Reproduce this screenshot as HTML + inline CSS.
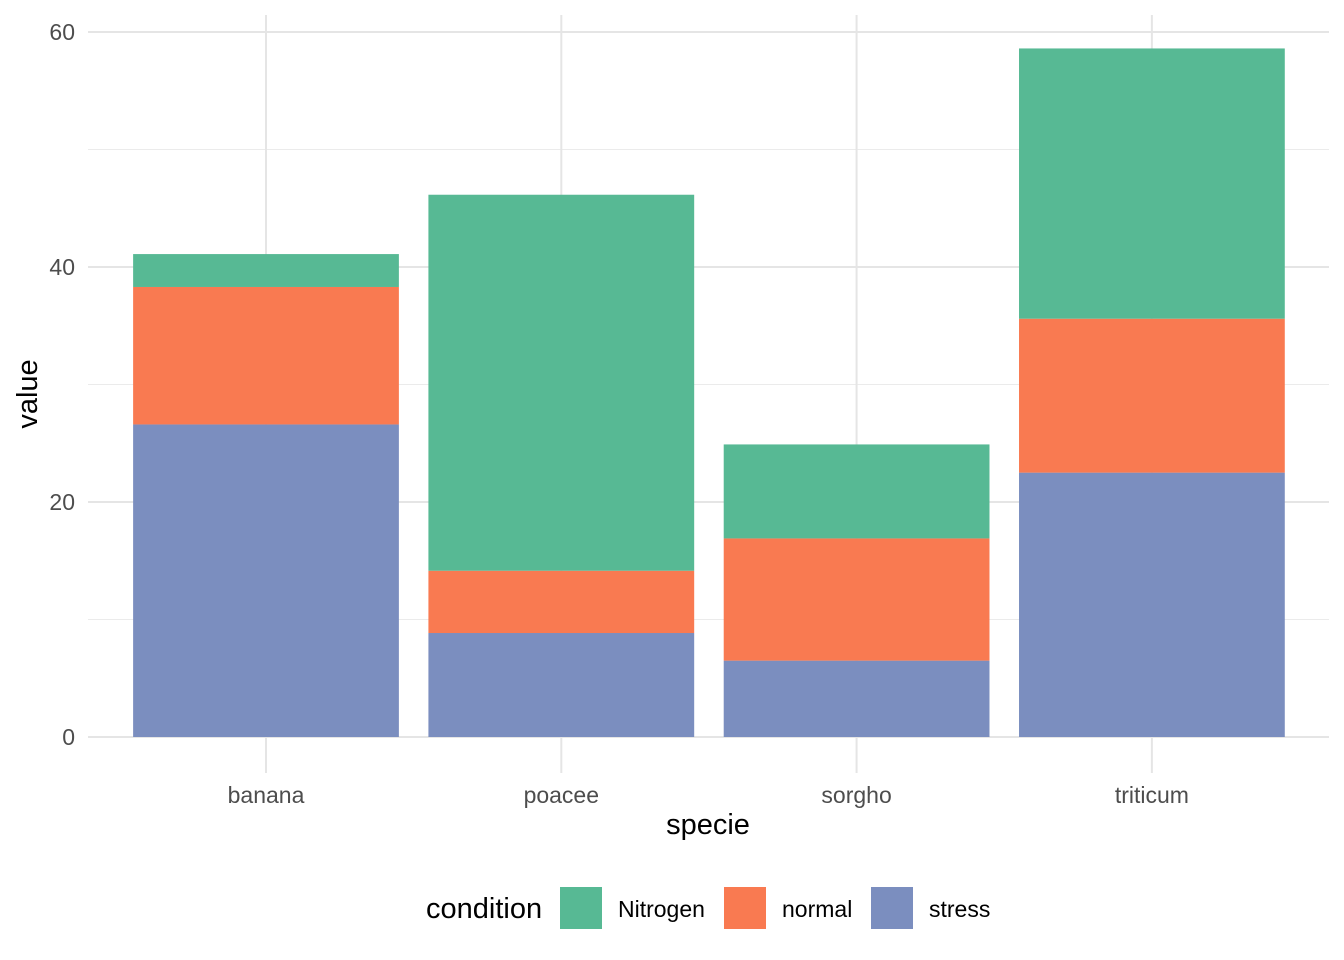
<!DOCTYPE html>
<html><head><meta charset="utf-8"><style>body{margin:0;background:#fff}svg{display:block;font-family:"Liberation Sans",sans-serif}</style></head>
<body>
<svg id="chart" width="1344" height="960"></svg>
<script>
const categories=["banana","poacee","sorgho","triticum"];
const stressVals=[26.6,8.85,6.5,22.5];
const normalVals=[11.7,5.3,10.4,13.1];
const nitrogenVals=[2.8,32.0,8.0,23.0];
const yTicks=[0,20,40,60];
const yMinor=[10,30,50];
const svg=document.getElementById('chart');
const NS='http://www.w3.org/2000/svg';
function mk(t,a,txt){const e=document.createElementNS(NS,t);for(const k in a)e.setAttribute(k,a[k]);if(txt!==undefined)e.textContent=txt;svg.appendChild(e);return e;}
const y=v=>737-v*11.75;
const bw=295.3;
const x=i=>266+i*bw;
const L=88,R=1329,T=15,B=773;
yMinor.forEach(v=>{const e=mk('line',{x1:L,x2:R,y1:y(v),y2:y(v),stroke:'#ebebeb','stroke-width':1});
});
yTicks.forEach(v=>{const e=mk('line',{x1:L,x2:R,y1:y(v),y2:y(v),stroke:'#e5e5e5','stroke-width':2});

const t=mk('text',{x:75,y:y(v)+8,'text-anchor':'end','font-size':23,fill:'#4d4d4d'},v);
});
categories.forEach((c,i)=>{const e=mk('line',{x1:x(i),x2:x(i),y1:T,y2:B,stroke:'#e5e5e5','stroke-width':2});

const t=mk('text',{x:x(i),y:803,'text-anchor':'middle','font-size':23,fill:'#4d4d4d'},c);
});
const series=[[stressVals,'#7b8ebf','stress'],[normalVals,'#f97a51','normal'],[nitrogenVals,'#57b994','nitrogen']];
categories.forEach((c,i)=>{let base=0;series.forEach(([vals,col,n])=>{const v=vals[i];
const r=mk('rect',{x:x(i)-bw*0.45,width:bw*0.9,y:y(base+v),height:y(base)-y(base+v),fill:col});
base+=v;});});
let t=mk('text',{x:708,y:834,'text-anchor':'middle','font-size':29,fill:'#000'},'specie');

t=mk('text',{x:37,y:394,'text-anchor':'middle','font-size':29,fill:'#000',transform:'rotate(-90 37 394)'},'value');

t=mk('text',{x:426,y:918,'font-size':29,fill:'#000'},'condition');

[[560,'#57b994','Nitrogen',618],[724,'#f97a51','normal',782],[871,'#7b8ebf','stress',929]].forEach(([kx,col,lab,tx])=>{
const r=mk('rect',{x:kx,y:887,width:42,height:42,fill:col});

const tt=mk('text',{x:tx,y:917,'font-size':23,fill:'#000'},lab);
});
</script>
</body></html>
